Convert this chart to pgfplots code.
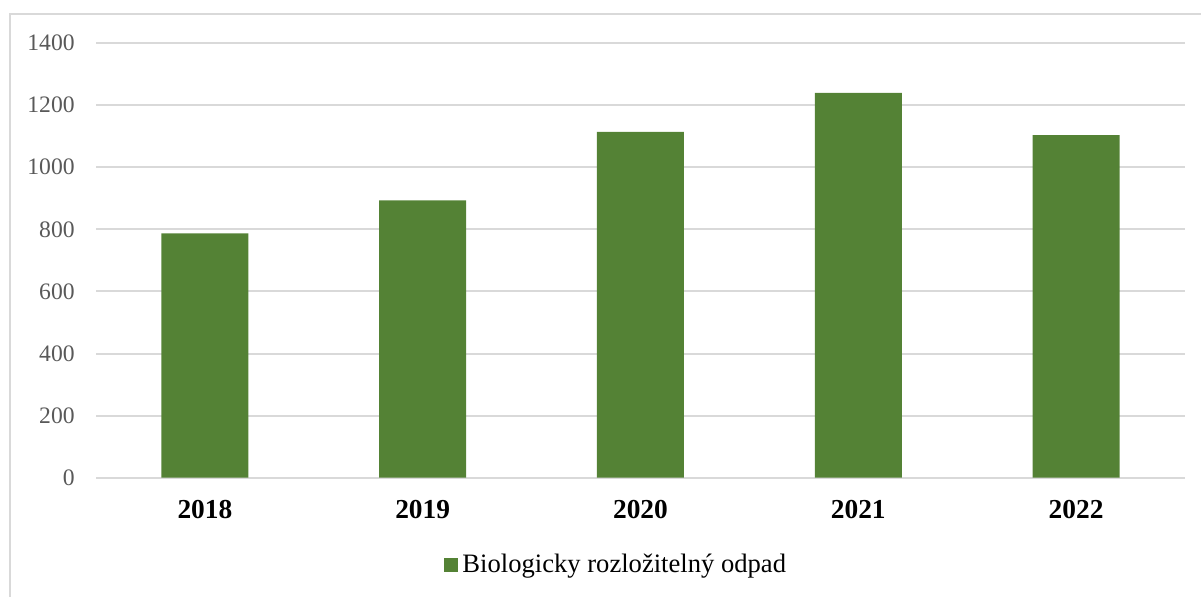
\documentclass[border=0pt]{standalone}
\usepackage{pgfplots}
\pgfplotsset{compat=1.18}
\usepackage{fontspec}
\setmainfont{Liberation Serif}
\definecolor{barg}{HTML}{548235}
\definecolor{gridc}{HTML}{D9D9D9}
\definecolor{tickc}{HTML}{595959}
\begin{document}
\begin{tikzpicture}
\useasboundingbox (0,0) rectangle (600.5pt,298pt);
\draw[gridc, line width=1pt] (5pt,-20pt) -- (5pt,291pt) -- (620pt,291pt);
\begin{axis}[
  at={(48pt,59.15pt)}, anchor=south west,
  scale only axis, width=544.5pt, height=217.35pt,
  xmin=-0.5, xmax=4.5, ymin=0, ymax=1400,
  ytick={0,200,...,1400},
  xtick={0,1,2,3,4},
  xticklabels={2018,2019,2020,2021,2022},
  axis line style={draw=none},
  major tick length=0pt,
  ymajorgrids, grid style={gridc, line width=1pt},
  yticklabel style={inner sep=0pt, xshift=-10.5pt, text=tickc, font=\fontsize{11.8}{12}\selectfont},
  xticklabel style={inner sep=0pt, yshift=-11pt, anchor=north, font=\fontsize{13.7}{14}\selectfont\bfseries},
  /pgf/number format/assume math mode=true,
  /pgf/number format/1000 sep={},
  scaled y ticks=false,
  legend style={draw=none, fill=none, inner sep=0pt, outer sep=0pt, at={(0.32,-0.2008)}, anchor=west, font=\fontsize{13.3}{14}\selectfont, /tikz/every even column/.append style={column sep=0pt}},
  legend image code/.code={\fill[barg] (0pt,-3.5pt) rectangle (7pt,3.5pt);},
]
\addplot[ybar, bar width=43.5pt, fill=barg, draw=none] coordinates {(0,787) (1,893) (2,1114) (3,1239) (4,1103)};
\addlegendentry{Biologicky rozložitelný odpad}
\end{axis}
\end{tikzpicture}
\end{document}
